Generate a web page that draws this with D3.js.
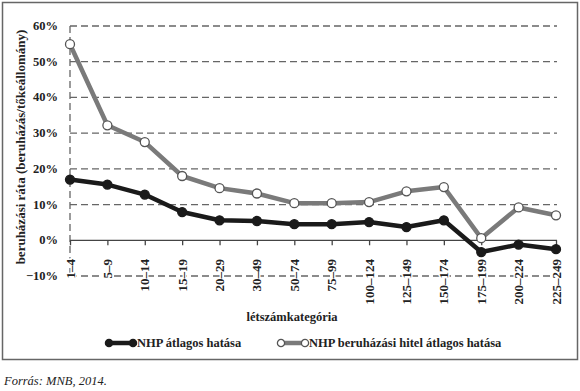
<!DOCTYPE html>
<html>
<head>
<meta charset="utf-8">
<script src="https://cdn.jsdelivr.net/npm/d3@7"></script>
<style>
  body { margin: 0; background: #fff; }
  text { font-family: "Liberation Serif", "DejaVu Serif", serif; fill: #222; }
</style>
</head>
<body>
<div id="graph"></div>
<script>
var categories = ["1–4", "5–9", "10–14", "15–19", "20–29", "30–49", "50–74", "75–99",
  "100–124", "125–149", "150–174", "175–199", "200–224", "225–249"];
var nhpAvg = [17.0, 15.6, 12.8, 7.9, 5.6, 5.4, 4.5, 4.5, 5.1, 3.7, 5.6, -3.3, -1.2, -2.5];
var nhpLoan = [54.9, 32.2, 27.5, 18.0, 14.6, 13.1, 10.4, 10.4, 10.7, 13.7, 14.9, 0.6, 9.2, 7.0];
var yTicks = [-10, 0, 10, 20, 30, 40, 50, 60];
var seriesNames = ["NHP átlagos hatása", "NHP beruházási hitel átlagos hatása"];

var W = 580, H = 391;
var svg = d3.select("#graph").append("svg").attr("width", W).attr("height", H);

// frame
svg.append("rect").attr("x", 2.5).attr("y", 2.5).attr("width", 575).attr("height", 357)
  .attr("fill", "none").attr("stroke", "#666").attr("stroke-width", 1.5);

var x = d3.scalePoint().domain(categories).range([70, 556]);
var y = d3.scaleLinear().domain([-10, 60]).range([276, 26]);

// grid
svg.selectAll("line.grid").data(yTicks.filter(function(d) { return d !== 0; }))
  .enter().append("line")
  .attr("x1", 70).attr("x2", 557)
  .attr("y1", function(d) { return y(d); }).attr("y2", function(d) { return y(d); })
  .attr("stroke", "#666").attr("stroke-width", 1.3).attr("stroke-dasharray", "7 4");

svg.append("line").attr("x1", 70).attr("x2", 70).attr("y1", y(60)).attr("y2", y(-10))
  .attr("stroke", "#666").attr("stroke-width", 1.3).attr("stroke-dasharray", "7 4");

// zero axis with ticks
var xAxis = svg.append("g").attr("transform", "translate(0," + y(0) + ")")
  .call(d3.axisBottom(x).tickSize(5).tickFormat(""));
xAxis.select(".domain").attr("d", "M70,0H557").attr("stroke", "#444").attr("stroke-width", 1.3);
xAxis.selectAll(".tick line").attr("stroke", "#444").attr("stroke-width", 1.3);

// x labels
svg.selectAll("text.xl").data(categories).enter().append("text")
  .attr("transform", function(d) { return "translate(" + (x(d) + 4.5) + ",259) rotate(-90)"; })
  .attr("text-anchor", "end")
  .attr("font-size", 13).attr("font-weight", "bold")
  .attr("stroke", "#fff").attr("stroke-width", 3).attr("paint-order", "stroke")
  .text(function(d) { return d; });

// y labels
svg.selectAll("text.yl").data(yTicks).enter().append("text")
  .attr("x", 58).attr("y", function(d) { return y(d) + 4; })
  .attr("text-anchor", "end")
  .attr("font-size", 12.5).attr("font-weight", "bold")
  .text(function(d) { return (d < 0 ? "−" + (-d) : d) + "%"; });

svg.append("text").attr("transform", "translate(25,147) rotate(-90)")
  .attr("text-anchor", "middle").attr("font-size", 13).attr("font-weight", "bold")
  .text("beruházási ráta (beruházás/tőkeállomány)");

svg.append("text").attr("x", 292).attr("y", 321).attr("text-anchor", "middle")
  .attr("font-size", 12.5).attr("font-weight", "bold").text("létszámkategória");

// series
var line = d3.line().x(function(d, i) { return x(categories[i]); }).y(function(d) { return y(d); });

function drawSeries(vals, lineColor, dotFill, dotStroke) {
  svg.append("path").datum(vals).attr("d", line)
    .attr("fill", "none").attr("stroke", lineColor).attr("stroke-width", 4.5)
    .attr("stroke-linejoin", "round");
  svg.append("g").selectAll("circle").data(vals).enter().append("circle")
    .attr("cx", function(d, i) { return x(categories[i]); })
    .attr("cy", function(d) { return y(d); })
    .attr("r", 4.5).attr("fill", dotFill).attr("stroke", dotStroke).attr("stroke-width", 1.3);
}
drawSeries(nhpAvg, "#1a1a1a", "#1a1a1a", "#1a1a1a");
drawSeries(nhpLoan, "#7a7a7a", "#fff", "#555");

// legend
function legendItem(x0, name, lineColor, dotFill, dotStroke) {
  var g = svg.append("g").attr("transform", "translate(" + x0 + ",343)");
  g.append("line").attr("x1", 0).attr("x2", 24).attr("stroke", lineColor).attr("stroke-width", 4.5);
  g.selectAll("circle").data([0, 24]).enter().append("circle")
    .attr("cx", function(d) { return d; }).attr("r", 3.6)
    .attr("fill", dotFill).attr("stroke", dotStroke).attr("stroke-width", 1.3);
  g.append("text").attr("x", 28).attr("y", 4).attr("font-size", 12.5).attr("font-weight", "bold").text(name);
}
legendItem(109, seriesNames[0], "#1a1a1a", "#1a1a1a", "#1a1a1a");
legendItem(281, seriesNames[1], "#7a7a7a", "#fff", "#555");

svg.append("text").attr("x", 4).attr("y", 385).attr("font-size", 12.5).attr("font-style", "italic")
  .text("Forrás: MNB, 2014.");
</script>
</body>
</html>
